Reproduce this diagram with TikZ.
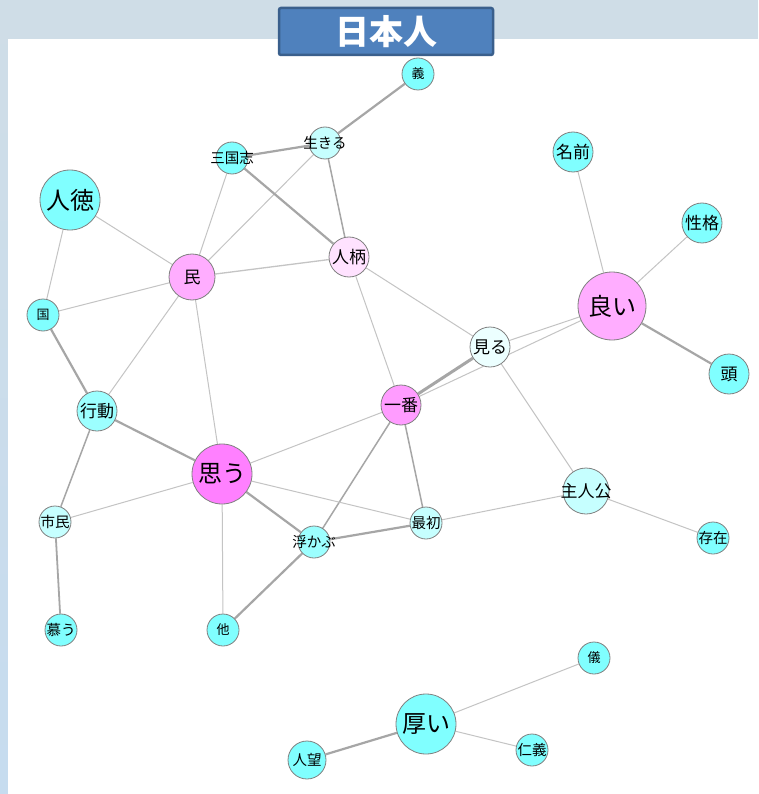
\documentclass[tikz,border=0pt]{standalone}
\usepackage{fontspec}
\newfontfamily\jp{Noto Sans CJK JP}
\usetikzlibrary{backgrounds}
\pgfdeclarelayer{bglayer}
\pgfdeclarelayer{edgelayer}
\pgfsetlayers{bglayer,edgelayer,main}
\definecolor{bgblue}{HTML}{CFDDE7}
\definecolor{bgleft}{HTML}{C6DCEF}
\definecolor{titlefill}{HTML}{4F81BD}
\definecolor{titleedge}{HTML}{3A5F8C}
\definecolor{nodeedge}{HTML}{808080}
\definecolor{thinedge}{HTML}{C4C4C4}
\definecolor{thickedge}{HTML}{A6A6A6}
\definecolor{cyanA}{HTML}{80FFFF}
\definecolor{cyanB}{HTML}{9CFFFF}
\definecolor{cyanC}{HTML}{C6FFFF}
\definecolor{cyanD}{HTML}{ECFFFF}
\definecolor{pinkA}{HTML}{FF80FF}
\definecolor{pinkB}{HTML}{FF9CFF}
\definecolor{pinkC}{HTML}{FFADFF}
\definecolor{pinkD}{HTML}{FFE2FF}
\tikzset{
  wnode/.style={circle, draw=nodeedge, line width=0.8pt, inner sep=0pt, text=black},
  rsmall/.style={minimum size=32pt},
  rmid/.style={minimum size=40pt},
  rmidb/.style={minimum size=46pt},
  rbig/.style={minimum size=60pt},
  rhuge/.style={minimum size=68pt},
  ftiny/.style={font=\jp\fontsize{13}{13}\selectfont},
  fsmall/.style={font=\jp\fontsize{14.5}{15}\selectfont},
  fmid/.style={font=\jp\fontsize{17}{17}\selectfont},
  fbig/.style={font=\jp\fontsize{24}{24}\selectfont},
  thin edge/.style={draw=thinedge, line width=1pt},
  mid edge/.style={draw=thickedge, line width=1.5pt},
  thick edge/.style={draw=thickedge, line width=2.2pt},
}
\newcommand\lbl[1]{\makebox[0pt]{#1}}
\begin{document}
\begin{tikzpicture}[x=1pt,y=-1pt]
\useasboundingbox (0,0) rectangle (758,794);
\begin{pgfonlayer}{bglayer}
  \fill[bgblue] (0,0) rectangle (758,794);
  \shade[top color=bgblue, bottom color=bgleft] (0,0) rectangle (8,794);
  \fill[white] (8,39) rectangle (758,794);
\end{pgfonlayer}
% title
\node[draw=titleedge, line width=2.5pt, fill=titlefill, rounded corners=2pt,
      minimum width=214pt, minimum height=47pt, inner sep=0pt, text=white,
      font=\jp\bfseries\fontsize{34}{34}\selectfont] (title) at (386,31.5) {日本人};
% nodes
\node[wnode, rsmall, fill=cyanA, ftiny] (gi) at (418,74) {\lbl{義}};
\node[wnode, rsmall, fill=cyanC, fsmall] (ikiru) at (325,143) {\lbl{生きる}};
\node[wnode, rsmall, fill=cyanA, fsmall] (sangoku) at (232,158) {\lbl{三国志}};
\node[wnode, rbig, fill=cyanA, fbig] (jintoku) at (70,200) {\lbl{人徳}};
\node[wnode, rmidb, fill=pinkC, fmid] (tami) at (192,277) {\lbl{民}};
\node[wnode, rmid, fill=pinkD, fmid] (hitogara) at (349,257) {\lbl{人柄}};
\node[wnode, rmid, fill=cyanA, fmid] (namae) at (573,152) {\lbl{名前}};
\node[wnode, rmid, fill=cyanA, fmid] (seikaku) at (702,223) {\lbl{性格}};
\node[wnode, rhuge, fill=pinkC, fbig] (yoi) at (612,306) {\lbl{良い}};
\node[wnode, rmid, fill=cyanA, fmid] (atama) at (729,374) {\lbl{頭}};
\node[wnode, rsmall, fill=cyanA, ftiny] (kuni) at (43,315) {\lbl{国}};
\node[wnode, rmid, fill=cyanD, fmid] (miru) at (490,347) {\lbl{見る}};
\node[wnode, rmid, fill=pinkB, fmid] (ichiban) at (401,405) {\lbl{一番}};
\node[wnode, rmid, fill=cyanB, fmid] (koudou) at (97,411) {\lbl{行動}};
\node[wnode, rbig, fill=pinkA, fbig] (omou) at (222,474) {\lbl{思う}};
\node[wnode, rmidb, fill=cyanC, fmid] (shujinkou) at (586,491) {\lbl{主人公}};
\node[wnode, rsmall, fill=cyanC, fsmall] (saisho) at (426,523) {\lbl{最初}};
\node[wnode, rsmall, fill=cyanC, fsmall] (shimin) at (55,522) {\lbl{市民}};
\node[wnode, rsmall, fill=cyanB, fsmall] (ukabu) at (314,542) {\lbl{浮かぶ}};
\node[wnode, rsmall, fill=cyanA, fsmall] (sonzai) at (713,538) {\lbl{存在}};
\node[wnode, rsmall, fill=cyanA, fsmall] (shitau) at (61,630) {\lbl{慕う}};
\node[wnode, rsmall, fill=cyanA, ftiny] (hoka) at (223,630) {\lbl{他}};
\node[wnode, rsmall, fill=cyanA, ftiny] (gi2) at (594,658) {\lbl{儀}};
\node[wnode, rbig, fill=cyanA, fbig] (atsui) at (426,724) {\lbl{厚い}};
\node[wnode, rsmall, fill=cyanA, fsmall] (jingi) at (532,750) {\lbl{仁義}};
\node[wnode, minimum size=38pt, fill=cyanA, fsmall] (jinbou) at (307,760) {\lbl{人望}};
% edges
\begin{pgfonlayer}{edgelayer}
  \draw[thick edge] (gi) -- (ikiru);
  \draw[thick edge] (ikiru) -- (sangoku);
  \draw[thin edge] (ikiru) -- (tami);
  \draw[mid edge] (ikiru) -- (hitogara);
  \draw[thin edge] (sangoku) -- (tami);
  \draw[thick edge] (sangoku) -- (hitogara);
  \draw[thin edge] (jintoku) -- (tami);
  \draw[thin edge] (jintoku) -- (kuni);
  \draw[thin edge, line width=1.3pt] (tami) -- (hitogara);
  \draw[thin edge] (tami) -- (kuni);
  \draw[thin edge] (tami) -- (koudou);
  \draw[thin edge] (tami) -- (omou);
  \draw[thick edge] (kuni) -- (koudou);
  \draw[thin edge] (hitogara) -- (miru);
  \draw[thin edge] (hitogara) -- (ichiban);
  \draw[thin edge] (namae) -- (yoi);
  \draw[thin edge] (seikaku) -- (yoi);
  \draw[thick edge] (yoi) -- (atama);
  \draw[thin edge] (yoi) -- (miru);
  \draw[thin edge] (yoi) -- (ichiban);
  \draw[thick edge, line width=3pt] (miru) -- (ichiban);
  \draw[thin edge] (miru) -- (shujinkou);
  \draw[thin edge] (ichiban) -- (omou);
  \draw[mid edge] (ichiban) -- (ukabu);
  \draw[mid edge] (ichiban) -- (saisho);
  \draw[thick edge] (koudou) -- (omou);
  \draw[mid edge] (koudou) -- (shimin);
  \draw[thin edge] (omou) -- (shimin);
  \draw[thick edge] (omou) -- (ukabu);
  \draw[thin edge] (omou) -- (saisho);
  \draw[thin edge] (omou) -- (hoka);
  \draw[mid edge, line width=1.8pt] (shimin) -- (shitau);
  \draw[thick edge] (ukabu) -- (saisho);
  \draw[thick edge] (ukabu) -- (hoka);
  \draw[thin edge] (saisho) -- (shujinkou);
  \draw[thin edge] (shujinkou) -- (sonzai);
  \draw[thin edge] (atsui) -- (gi2);
  \draw[thin edge] (atsui) -- (jingi);
  \draw[thick edge] (atsui) -- (jinbou);
\end{pgfonlayer}
\end{tikzpicture}
\end{document}
